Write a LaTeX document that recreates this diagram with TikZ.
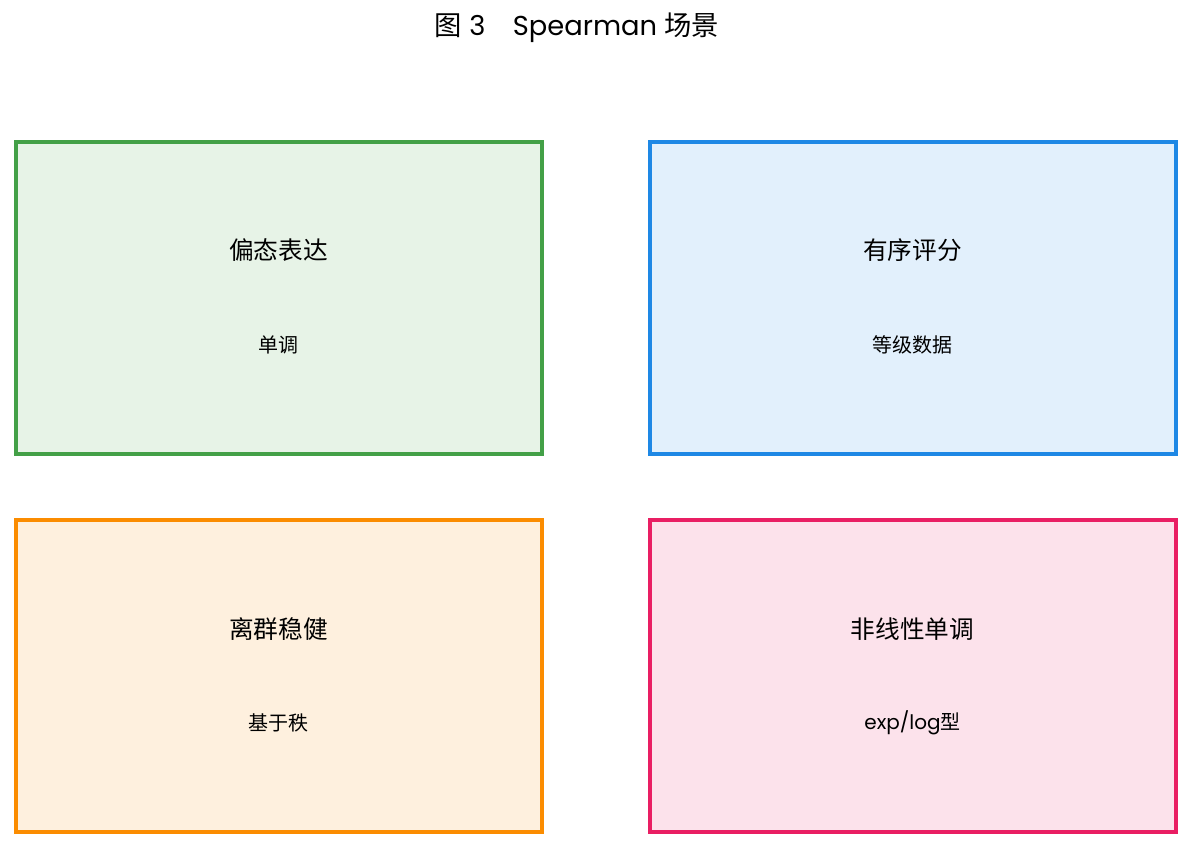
\documentclass[tikz,border=0pt]{standalone}
\usepackage{fontspec}
\setmainfont{Poppins}
\newfontfamily\cjk{Noto Sans CJK SC}
\definecolor{leafgreen}{HTML}{43A047}
\definecolor{skyblue}{HTML}{1E88E5}
\definecolor{amber}{HTML}{FB8C00}
\definecolor{rosepink}{HTML}{E91E63}
\usetikzlibrary{positioning}
\tikzset{
  panel/.style={rectangle, draw=#1, fill=#1!13, line width=3pt, minimum width=394.5pt, minimum height=234pt},
  headlabel/.style={font=\fontsize{18.5}{22}\selectfont\cjk},
  sublabel/.style={font=\fontsize{15}{18}\selectfont},
}
\begin{document}
\begin{tikzpicture}[x=0.75pt, y=-0.75pt]
\useasboundingbox (0,0) rectangle (1192,849);
% title
\node[font=\fontsize{20.5}{24}\selectfont] (title) at (577,28) {{\cjk 图}~3\quad Spearman {\cjk 场景}};
% panels
\node[panel=leafgreen] (skew) at (278.5,298) {};
\node[panel=skyblue] (ordinal) at (912.5,298) {};
\node[panel=amber] (outlier) at (278.5,676) {};
\node[panel=rosepink] (nonlin) at (912.5,676) {};
% labels
\node[headlabel] (skewhead) at (278.5,250) {偏态表达};
\node[sublabel] (skewsub) at (278.5,345) {\cjk 单调};
\node[headlabel] (ordinalhead) at (912.5,250) {有序评分};
\node[sublabel] (ordinalsub) at (912.5,345) {\cjk 等级数据};
\node[headlabel] (outlierhead) at (278.5,629) {离群稳健};
\node[sublabel] (outliersub) at (278.5,723) {\cjk 基于秩};
\node[headlabel] (nonlinhead) at (912.5,629) {非线性单调};
\node[sublabel] (nonlinsub) at (912.5,723) {exp/log{\cjk 型}};
\end{tikzpicture}
\end{document}
